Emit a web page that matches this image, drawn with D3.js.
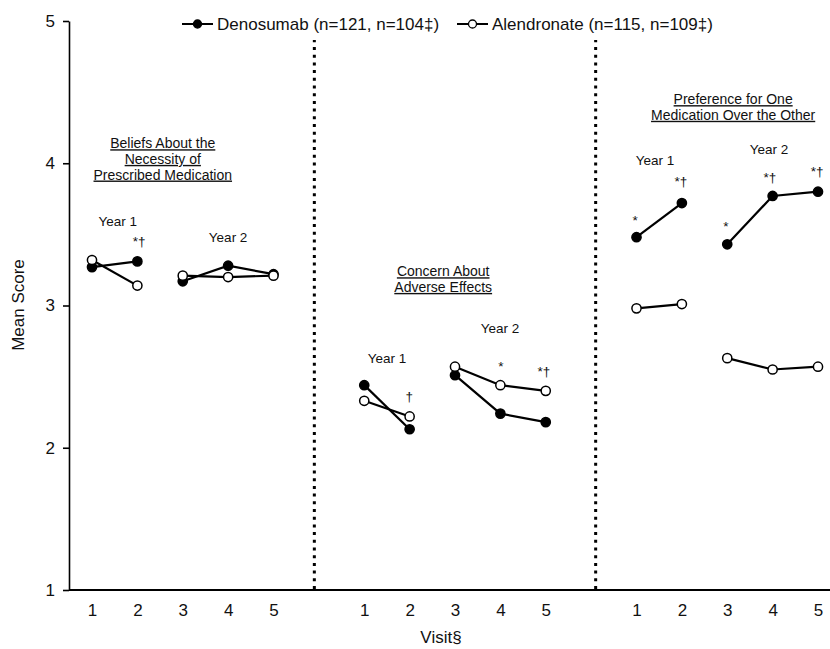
<!DOCTYPE html>
<html>
<head>
<meta charset="utf-8">
<script src="https://cdn.jsdelivr.net/npm/d3@7"></script>
<style>
  body { margin: 0; background: #fff; }
  svg { display: block; font-family: 'Liberation Sans', Arial, sans-serif; }
</style>
</head>
<body>
<div id="chart"></div>
<script>
// visits within each panel
const visits = [1, 2, 3, 4, 5];
const yTicks = [1, 2, 3, 4, 5];

// panel order: beliefs, concern, preference
const denosumab = [
    [3.27, 3.31, 3.17, 3.28, 3.22],
    [2.44, 2.13, 2.51, 2.24, 2.18],
    [3.48, 3.72, 3.43, 3.77, 3.80]
];
const alendronate = [
    [3.32, 3.14, 3.21, 3.20, 3.21],
    [2.33, 2.22, 2.57, 2.44, 2.40],
    [2.98, 3.01, 2.63, 2.55, 2.57]
];
// year 1 = visits 1-2, year 2 = visits 3-5
const years = [[0, 2], [2, 5]];

const panelTitles = [
    { panel: 0, visit: 2.56, score: [4.14, 4.03, 3.92], lines: ['Beliefs About the', 'Necessity of', 'Prescribed Medication'] },
    { panel: 1, visit: 2.74, score: [3.24, 3.13], lines: ['Concern About', 'Adverse Effects'] },
    { panel: 2, visit: 3.13, score: [4.45, 4.34], lines: ['Preference for One', 'Medication Over the Other'] }
];

const notes = [
    { panel: 0, visit: 1.57, score: 3.59, text: 'Year 1' },
    { panel: 0, visit: 2.04, score: 3.45, text: '*†' },
    { panel: 0, visit: 4.00, score: 3.48, text: 'Year 2' },
    { panel: 1, visit: 1.50, score: 2.63, text: 'Year 1' },
    { panel: 1, visit: 1.99, score: 2.36, text: '†' },
    { panel: 1, visit: 3.99, score: 2.84, text: 'Year 2' },
    { panel: 1, visit: 4.01, score: 2.575, text: '*' },
    { panel: 1, visit: 4.96, score: 2.54, text: '*†' },
    { panel: 2, visit: 1.41, score: 4.02, text: 'Year 1' },
    { panel: 2, visit: 0.97, score: 3.60, text: '*' },
    { panel: 2, visit: 1.98, score: 3.87, text: '*†' },
    { panel: 2, visit: 3.92, score: 4.10, text: 'Year 2' },
    { panel: 2, visit: 2.97, score: 3.56, text: '*' },
    { panel: 2, visit: 3.94, score: 3.90, text: '*†' },
    { panel: 2, visit: 4.98, score: 3.945, text: '*†' }
];

const dividers = [4.9, 11.1];

const legendItems = [
    { label: 'Denosumab (n=121, n=104‡)', fill: '#000' },
    { label: 'Alendronate (n=115, n=109‡)', fill: '#fff' }
];

const W = 830, H = 649;

const svg = d3.select('#chart')
    .append('svg')
    .attr('width', W)
    .attr('height', H);

const x = d3.scaleLinear().domain([0, 16]).range([92, 818]);
const y = d3.scaleLinear().domain([1, 5]).range([590, 21]);

function px(panel, visit) { return x(panel * 6 + visit - 1); }

// y axis
const yAxis = svg.append('g')
    .attr('transform', 'translate(69,0)')
    .call(d3.axisLeft(y).tickValues(yTicks).tickFormat(d3.format('d')).tickSize(6).tickSizeOuter(0).tickPadding(8));
yAxis.select('.domain').attr('stroke-width', 1.6);
yAxis.selectAll('.tick line').attr('stroke-width', 1.6);
yAxis.selectAll('text').style('font-size', '17px').attr('fill', '#111');

// x axis: visit numbers repeated per panel
const xTickVals = [];
[0, 1, 2].forEach(function(p) {
    visits.forEach(function(v) { xTickVals.push(p * 6 + v - 1); });
});
const xAxis = svg.append('g')
    .attr('transform', 'translate(0,' + y(1) + ')')
    .call(d3.axisBottom(x).tickValues(xTickVals).tickSize(0).tickPadding(14)
        .tickFormat(function(d) { return (d % 6) + 1; }));
xAxis.select('.domain').remove();
xAxis.selectAll('text').style('font-size', '17px').attr('fill', '#111');

svg.append('line')
    .attr('x1', 69).attr('x2', W)
    .attr('y1', y(1)).attr('y2', y(1))
    .attr('stroke', '#000').attr('stroke-width', 1.8);

// dotted panel dividers
svg.selectAll('.divider')
    .data(dividers)
    .enter()
    .append('line')
    .attr('class', 'divider')
    .attr('x1', function(d) { return x(d); })
    .attr('x2', function(d) { return x(d); })
    .attr('y1', y(1) - 1)
    .attr('y2', 40)
    .attr('stroke', '#000')
    .attr('stroke-width', 3)
    .attr('stroke-dasharray', '3,4.7');

// axis titles
svg.append('text')
    .attr('transform', 'translate(24,305) rotate(-90)')
    .attr('text-anchor', 'middle')
    .style('font-size', '17px')
    .attr('fill', '#111')
    .text('Mean Score');

svg.append('text')
    .attr('x', 441)
    .attr('y', 643)
    .attr('text-anchor', 'middle')
    .style('font-size', '17px')
    .attr('fill', '#111')
    .text('Visit§');

// series
const line = d3.line()
    .x(function(d) { return d.x; })
    .y(function(d) { return y(d.v); });

function drawSeries(series, fill) {
    series.forEach(function(vals, p) {
        years.forEach(function(yr) {
            const seg = [];
            for (let i = yr[0]; i < yr[1]; i++) {
                seg.push({ x: px(p, visits[i]), v: vals[i] });
            }
            svg.append('path')
                .datum(seg)
                .attr('fill', 'none')
                .attr('stroke', '#000')
                .attr('stroke-width', 2.2)
                .attr('d', line);
        });
    });
}

function drawPoints(series, fill) {
    series.forEach(function(vals, p) {
        svg.selectAll(null)
            .data(vals)
            .enter()
            .append('circle')
            .attr('cx', function(d, i) { return px(p, visits[i]); })
            .attr('cy', function(d) { return y(d); })
            .attr('r', 4.6)
            .attr('fill', fill)
            .attr('stroke', '#000')
            .attr('stroke-width', 1.5);
    });
}

drawSeries(denosumab);
drawSeries(alendronate);
drawPoints(denosumab, '#000');
drawPoints(alendronate, '#fff');

// panel titles (underlined)
panelTitles.forEach(function(t) {
    t.lines.forEach(function(l, i) {
        svg.append('text')
            .attr('x', px(t.panel, t.visit))
            .attr('y', y(t.score[i]))
            .attr('dy', '0.35em')
            .attr('text-anchor', 'middle')
            .style('font-size', '14px')
            .style('text-decoration', 'underline')
            .attr('fill', '#111')
            .text(l);
    });
});

// year labels and significance marks
svg.selectAll('.note')
    .data(notes)
    .enter()
    .append('text')
    .attr('class', 'note')
    .attr('x', function(d) { return px(d.panel, d.visit); })
    .attr('y', function(d) { return y(d.score); })
    .attr('dy', '0.35em')
    .attr('text-anchor', 'middle')
    .style('font-size', '13.5px')
    .attr('fill', '#111')
    .text(function(d) { return d.text; });

// legend
const legendX = [182, 457];
legendItems.forEach(function(item, i) {
    const g = svg.append('g').attr('transform', 'translate(' + legendX[i] + ',24)');
    g.append('line')
        .attr('x1', 0).attr('x2', 31)
        .attr('y1', 0).attr('y2', 0)
        .attr('stroke', '#000').attr('stroke-width', 2);
    g.append('circle')
        .attr('cx', 15.5).attr('cy', 0).attr('r', 4)
        .attr('fill', item.fill)
        .attr('stroke', '#000').attr('stroke-width', 1.3);
    g.append('text')
        .attr('x', 35)
        .attr('dy', '0.35em')
        .style('font-size', '17px')
        .attr('fill', '#111')
        .text(item.label);
});
</script>
</body>
</html>
